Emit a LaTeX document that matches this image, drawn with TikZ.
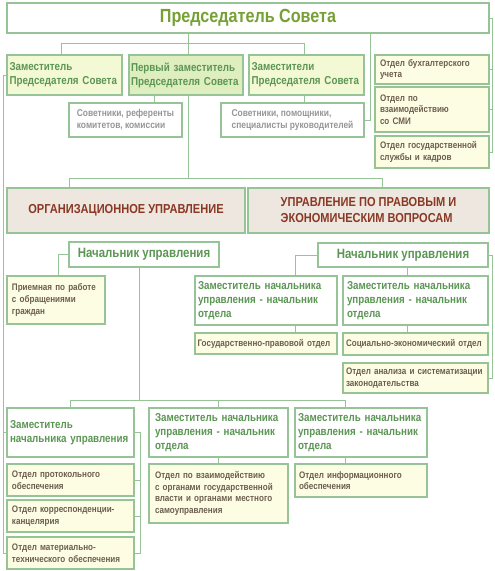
\documentclass[tikz,border=0pt]{standalone}
\usepackage{fontspec}
\setmainfont{Liberation Sans}[FakeStretch=0.85]
\usepackage{xcolor}
\usetikzlibrary{positioning}
\definecolor{linegreen}{RGB}{150,196,150}
\definecolor{titlegreen}{RGB}{118,160,52}
\definecolor{textgreen}{RGB}{92,150,84}
\definecolor{depttext}{RGB}{108,94,78}
\definecolor{advtext}{RGB}{150,150,150}
\definecolor{bigtext}{RGB}{138,56,36}
\definecolor{bigfill}{RGB}{237,231,223}
\definecolor{deptfill}{RGB}{253,253,228}
\definecolor{depfill}{RGB}{243,249,212}
\definecolor{firstfill}{RGB}{222,238,190}
\tikzstyle{box}    = [draw=linegreen, line width=1.1pt, inner ysep=0pt, outer sep=0pt, align=left]
\tikzstyle{chief}  = [box, fill=white, text=titlegreen, align=center, font=\bfseries\fontsize{19}{22}\selectfont]
\tikzstyle{deputy} = [box, fill=white, inner xsep=4pt, text=textgreen, font=\bfseries\fontsize{11.5}{14}\selectfont]
\tikzstyle{head}   = [box, fill=white, text=textgreen, align=center, font=\bfseries\fontsize{13.5}{16}\selectfont]
\tikzstyle{dept}   = [box, fill=deptfill, inner xsep=5pt, text=depttext, font=\bfseries\fontsize{9.5}{11.6}\selectfont]
\tikzstyle{advis}  = [box, fill=white, text=advtext, font=\bfseries\fontsize{9.9}{12}\selectfont]
\tikzstyle{unit}   = [box, fill=bigfill, text=bigtext, font=\bfseries\fontsize{13}{16}\selectfont]
\tikzstyle{edge}   = [draw=linegreen, line width=0.8pt]
\begin{document}
\begin{tikzpicture}[x=1pt, y=-1pt]
\useasboundingbox (0,0) rectangle (495,571);

% председатель
\node[chief, minimum width=482pt, minimum height=30pt] (chair) at (248,18) {Председатель Совета};

% заместители
\node[deputy, fill=depfill, inner xsep=2.5pt, text width=110pt, minimum height=40pt] (dep1) at (64.5,75) {Заместитель\\Председателя Совета};
\node[deputy, fill=firstfill, inner xsep=2pt, text width=110pt, minimum height=40pt] (dep0) at (186,75) {Первый заместитель\\Председателя Совета};
\node[deputy, fill=depfill, inner xsep=2.5pt, text width=110pt, minimum height=40pt] (dep2) at (306.5,75) {Заместители\\Председателя Совета};

% советники
\node[advis, minimum width=113pt, minimum height=34pt] (adv1) at (125.5,120) {Советники, референты\\комитетов, комиссии};
\node[advis, minimum width=143pt, minimum height=34pt] (adv2) at (292.5,120) {Советники, помощники,\\специалисты руководителей};

% отделы справа
\node[dept, inner xsep=5pt, text width=104pt, minimum height=29pt] (r1) at (432,69.5) {Отдел бухгалтерского\\учета};
\node[dept, inner xsep=5pt, text width=104pt, minimum height=45pt] (r2) at (432,109.5) {Отдел по\\взаимодействию\\со СМИ};
\node[dept, inner xsep=5pt, text width=104pt, minimum height=32pt] (r3) at (432,152) {Отдел государственной\\службы и кадров};

% управления
\node[unit, align=center, minimum width=238pt, minimum height=45pt] (org) at (126,210.5) {ОРГАНИЗАЦИОННОЕ УПРАВЛЕНИЕ};
\node[unit, minimum width=241pt, minimum height=45pt] (law) at (368.5,210.5) {УПРАВЛЕНИЕ ПО ПРАВОВЫМ И\\ЭКОНОМИЧЕСКИМ ВОПРОСАМ};

% начальники
\node[head, minimum width=150pt, minimum height=25pt] (headL) at (144,254.5) {Начальник управления};
\node[head, minimum width=170pt, minimum height=24pt] (headR) at (403,255) {Начальник управления};

% правовое управление
\node[dept, text width=88pt, minimum height=48pt] (recep) at (56,300) {Приемная по работе\\с обращениями\\граждан};
\node[deputy, inner xsep=3pt, text width=136pt, minimum height=49pt] (dd1) at (266,300.5) {Заместитель начальника\\управления - начальник\\отдела};
\node[deputy, inner xsep=4pt, text width=137pt, minimum height=49pt] (dd2) at (415.5,300.5) {Заместитель начальника\\управления - начальник\\отдела};
\node[dept, inner xsep=2.5pt, text width=137pt, minimum height=21pt] (gp) at (266,343.5) {Государственно-правовой отдел};
\node[dept, inner xsep=3pt, text width=139pt, minimum height=22pt] (se) at (415.5,344) {Социально-экономический отдел};
\node[dept, inner xsep=3pt, text width=139pt, minimum height=30pt] (an) at (415.5,378) {Отдел анализа и систематизации\\законодательства};

% организационное управление
\node[deputy, inner xsep=3pt, text width=121pt, minimum height=49pt] (ld) at (70.5,432.5) {Заместитель\\начальника управления};
\node[deputy, inner xsep=6pt, text width=127pt, minimum height=49pt] (md) at (218.5,432.5) {Заместитель начальника\\управления - начальник\\отдела};
\node[deputy, inner xsep=3pt, text width=126pt, minimum height=49pt] (rd) at (361,432.5) {Заместитель начальника\\управления - начальник\\отдела};
\node[dept, text width=117pt, minimum height=32pt] (l1) at (70.5,480) {Отдел протокольного\\обеспечения};
\node[dept, text width=117pt, minimum height=32pt] (l2) at (70.5,516) {Отдел корреспонденции-\\канцелярия};
\node[dept, text width=117pt, minimum height=32pt] (l3) at (70.5,553) {Отдел материально-\\технического обеспечения};
\node[dept, inner xsep=6pt, text width=127pt, minimum height=59pt] (m1) at (218.5,493.5) {Отдел по взаимодействию\\с органами государственной\\власти и органами местного\\самоуправления};
\node[dept, inner xsep=4pt, text width=124pt, minimum height=33pt] (rr1) at (361,480.5) {Отдел информационного\\обеспечения};

% точки разводки
\coordinate (busA) at (188,43);
\coordinate (t1) at (61,43);
\coordinate (t2) at (304,43);
\coordinate (t3) at (370,0);
\coordinate (t4) at (154,0);
\coordinate (busB) at (188,178);
\coordinate (t5) at (69,178);
\coordinate (t6) at (382,178);
\coordinate (t7) at (58,0);
\coordinate (t8) at (139,400);
\coordinate (t9) at (345,400);
\coordinate (t11) at (295,0);
\coordinate (t12) at (407,0);
\coordinate (lbus) at (3,0);
\coordinate (rbus) at (492,0);
\coordinate (lrbus) at (140,0);

% связи председателя
\draw[edge] (chair.south -| busA) -- (busA);
\draw[edge] (dep1.north -| t1) |- (t2) -- (dep2.north -| t2);
\draw[edge] (busA) -- (dep0.north -| busA);
\draw[edge] (chair.south -| t3) |- (adv2.east);
\draw[edge] (chair.east) -- (chair.east -| rbus) |- (r3.east);
\draw[edge] (r1.east) -- (r1.east -| rbus);
\draw[edge] (r2.east) -- (r2.east -| rbus);

% связи заместителей
\draw[edge] (dep0.south -| t4) -- (adv1.north -| t4);
\draw[edge] (dep2.south -| t2) -- (adv2.north -| t2);
\draw[edge] (dep0.south -| busB) -- (busB);
\draw[edge] (org.north -| t5) |- (t6) -- (law.north -| t6);
\draw[edge] (dep1.west) -- (dep1.west -| lbus) |- (l3.west);
\draw[edge] (ld.west) -- (ld.west -| lbus);

% левый начальник
\draw[edge] (headL.west) -| (recep.north -| t7);
\draw[edge] (headL.south -| t8) -- (t8);
\draw[edge] (ld.north) |- (t9) -- (rd.north -| t9);
\draw[edge] (md.north) -- (md.north |- t9);
\draw[edge] (md.south) -- (m1.north);
\draw[edge] (rd.south -| t9) -- (rr1.north -| t9);
\draw[edge] (ld.east) -- (ld.east -| lrbus) |- (l3.east);
\draw[edge] (l1.east) -- (l1.east -| lrbus);
\draw[edge] (l2.east) -- (l2.east -| lrbus);

% правый начальник
\draw[edge] (headR.west) -| (dd1.north -| t11);
\draw[edge] (dd1.south -| t11) -- (gp.north -| t11);
\draw[edge] (headR.south -| t12) -- (dd2.north -| t12);
\draw[edge] (dd2.south -| t12) -- (se.north -| t12);
\draw[edge] (headR.east) -- (headR.east -| rbus) |- (an.east);

\end{tikzpicture}
\end{document}
